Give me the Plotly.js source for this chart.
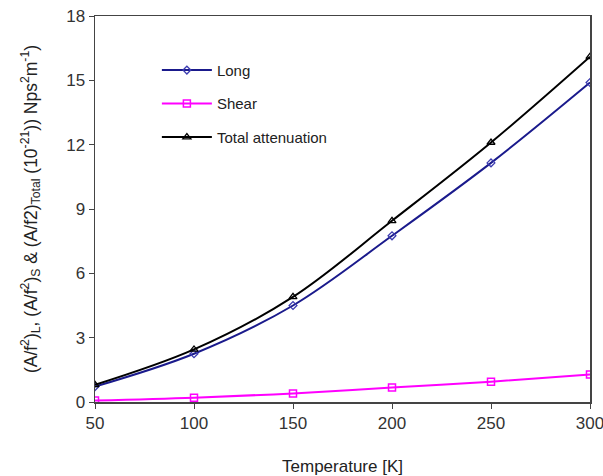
<!DOCTYPE html>
<html><head><meta charset="utf-8">
<script src="https://cdn.plot.ly/plotly-3.0.1.min.js"></script>
<style>body{margin:0;background:#fff}#c{width:603px;height:476px}</style>
</head><body><div id="c"></div>
<script>
const temperature = [50, 100, 150, 200, 250, 300];
const longVals = [0.72, 2.25, 4.5, 7.75, 11.15, 14.9];
const shearVals = [0.07, 0.2, 0.4, 0.68, 0.95, 1.28];
const totalVals = [0.8, 2.45, 4.9, 8.45, 12.1, 16.1];
const yTicks = [0, 3, 6, 9, 12, 15, 18];
const xTicks = [50, 100, 150, 200, 250, 300];

const fam = 'Liberation Sans, Arial, sans-serif';
const traces = [
  {x: temperature, y: longVals, name: 'Long', legendgroup: 'a', mode: 'lines+markers',
   line: {color: '#1a1a8c', width: 2, shape: 'spline'},
   marker: {symbol: 'diamond-open', size: 6, color: '#3b3bb0', line: {width: 1.3}}},
  {x: temperature, y: shearVals, name: 'Shear', legendgroup: 'b', mode: 'lines+markers',
   line: {color: '#ff00ff', width: 2, shape: 'spline'},
   marker: {symbol: 'square-open', size: 7, color: '#ff00ff', line: {width: 1.5}}},
  {x: temperature, y: totalVals, name: 'Total attenuation', legendgroup: 'c', mode: 'lines+markers',
   line: {color: '#000000', width: 2, shape: 'spline'},
   marker: {symbol: 'triangle-up-open', size: 7, color: '#000000', line: {width: 1.3}}}
];
const layout = {
  width: 603, height: 476,
  margin: {l: 95, r: 13, t: 16, b: 74},
  paper_bgcolor: '#fff', plot_bgcolor: '#fff',
  font: {family: fam, size: 16, color: '#222'},
  showlegend: true,
  legend: {x: 0.125, y: 0.902, xanchor: 'left', yanchor: 'top', bgcolor: 'rgba(0,0,0,0)',
           font: {family: fam, size: 15, color: '#222'}, tracegroupgap: 11, itemwidth: 50},
  xaxis: {range: [50, 300], tickvals: xTicks, ticks: 'outside', ticklen: 5, tickcolor: '#444',
          ticklabeloverflow: 'allow',
          showline: true, linecolor: '#444', linewidth: 1.5, mirror: true, showgrid: false, zeroline: false,
          tickfont: {family: fam, size: 17, color: '#333'},
          title: {text: 'Temperature [K]', standoff: 28, font: {family: fam, size: 17, color: '#222'}}},
  yaxis: {range: [0, 18], tickvals: yTicks, ticks: 'outside', ticklen: 5, tickcolor: '#444',
          showline: true, linecolor: '#444', linewidth: 1.5, mirror: true, showgrid: false, zeroline: false,
          tickfont: {family: fam, size: 17, color: '#333'},
          title: {text: '(A/f<sup>2</sup>)<sub>L</sub>, (A/f<sup>2</sup>)<sub>S</sub> &amp; (A/f2)<sub>Total</sub> (10<sup>-21</sup>)) Nps<sup>2</sup>m<sup>-1</sup>)',
                  standoff: 24, font: {family: fam, size: 17.5, color: '#222'}}}
};
Plotly.newPlot('c', traces, layout, {displayModeBar: false, staticPlot: true});
</script></body></html>
